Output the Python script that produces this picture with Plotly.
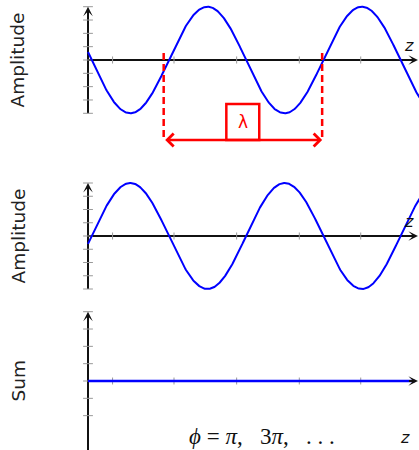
import numpy as np
import plotly.graph_objects as go

# ---- data / parameters ----
amplitude = 1.0
phases = [np.pi, 0.0]          # phase of wave 1 and wave 2
z_start = 0.15                  # where the sine starts (zero crossing offset)
z_max = 13.5
x_ticks = [1.0, 3.5, 6.05, 8.6, 11.1]
y_ticks_amp = [-1, -0.75, -0.5, -0.25, 0, 0.25, 0.5, 0.75, 1]
y_ticks_sum = [-0.5, -0.25, 0, 0.25, 0.5, 0.75, 1]
lambda_left, lambda_right = 3.08, 9.53
panel_labels = ["Amplitude", "Amplitude", "Sum"]
NB = "\u00a0"
phase_text = ("<i>ϕ</i>" + NB + "=" + NB + "<i>π</i>," + NB * 3 + "3<i>π</i>," + NB * 3
              + "." + NB + "." + NB + ".")

z = np.linspace(0, z_max, 600)
wave1 = amplitude * np.sin(z - z_start + phases[0])
wave2 = amplitude * np.sin(z - z_start + phases[1])
wave_sum = wave1 + wave2

BLUE = "#0000ff"
RED = "#ff0000"
XR = [-88 / 24.57, 331 / 24.57]

fig = go.Figure()
fig.add_trace(go.Scatter(x=z, y=wave1, mode="lines", line=dict(color=BLUE, width=2), xaxis="x", yaxis="y"))
fig.add_trace(go.Scatter(x=z, y=wave2, mode="lines", line=dict(color=BLUE, width=2), xaxis="x2", yaxis="y2"))
fig.add_trace(go.Scatter(x=z[z <= 13.3], y=wave_sum[z <= 13.3], mode="lines", line=dict(color=BLUE, width=2.5), xaxis="x3", yaxis="y3"))

shapes = []
annotations = []
panels = [("x", "y", y_ticks_amp, -1, 0.066), ("x2", "y2", y_ticks_amp, -1, 0.066), ("x3", "y3", y_ticks_sum, -1, 0.05)]
for xr, yr, yt, ybot, xt_h in panels:
    # axis lines
    shapes.append(dict(type="line", xref=xr, yref=yr, x0=0, x1=13.2, y0=0, y1=0,
                       line=dict(color="#111", width=2), layer="below"))
    shapes.append(dict(type="line", xref=xr, yref=yr, x0=0, x1=0, y0=ybot, y1=0.85,
                       line=dict(color="#111", width=2), layer="below"))
    for t in yt:
        shapes.append(dict(type="line", xref=xr, yref=yr, x0=-0.2, x1=0.2, y0=t, y1=t,
                           line=dict(color="#999", width=1), layer="below"))
    for t in x_ticks:
        shapes.append(dict(type="line", xref=xr, yref=yr, x0=t, x1=t, y0=-xt_h, y1=xt_h,
                           line=dict(color="#999", width=1), layer="below"))
    # arrowheads
    annotations.append(dict(x=13.43, y=0, ax=13.0, ay=0, xref=xr, yref=yr, axref=xr, ayref=yr,
                            text="", showarrow=True, arrowhead=3, arrowsize=0.8, arrowwidth=2, arrowcolor="#111"))
    annotations.append(dict(x=0, y=1.0, ax=0, ay=0.8, xref=xr, yref=yr, axref=xr, ayref=yr,
                            text="", showarrow=True, arrowhead=3, arrowsize=0.8, arrowwidth=2, arrowcolor="#111"))

# lambda marker
for lx in (lambda_left, lambda_right):
    shapes.append(dict(type="line", xref="x", yref="y", x0=lx, x1=lx, y0=0.13, y1=-1.5,
                       line=dict(color=RED, width=2.5, dash="7px,4px")))
shapes.append(dict(type="rect", xref="x", yref="y", x0=5.63, x1=6.97, y0=-0.825, y1=-1.5,
                   line=dict(color=RED, width=2.5), fillcolor="white"))
annotations.append(dict(x=lambda_right, y=-1.5, ax=lambda_left, ay=-1.5, xref="x", yref="y", axref="x", ayref="y",
                        text="", showarrow=True, arrowside="end+start", arrowhead=4, startarrowhead=4,
                        arrowsize=1, startarrowsize=1, arrowwidth=2.5, arrowcolor=RED))
annotations.append(dict(x=6.30, y=-1.16, xref="x", yref="y", text="λ", showarrow=False,
                        font=dict(color=RED, size=17, family="DejaVu Sans")))

# z labels
for xr, yr, yv in [("x", "y", 0.27), ("x2", "y2", 0.28), ("x3", "y3", -0.81)]:
    annotations.append(dict(x=13.05 if xr != "x3" else 12.9, y=yv, xref=xr, yref=yr, text="<i>z</i>",
                            showarrow=False, font=dict(size=16, color="#111", family="DejaVu Sans")))

annotations.append(dict(x=(261.5 - 88) / 24.57, y=-0.80, xref="x3", yref="y3", text=phase_text, showarrow=False,
                        xanchor="center", yanchor="middle",
                        font=dict(size=23, color="#111", family="Liberation Serif")))

# panel labels
for lab, ypx in zip(panel_labels, [60, 236, 381]):
    annotations.append(dict(x=17.5 / 419, y=1 - ypx / 450, xref="paper", yref="paper", text=lab,
                            textangle=-90, showarrow=False, xanchor="center", yanchor="middle",
                            font=dict(size=18.5, color="#222", family="DejaVu Sans")))

ax_common = dict(visible=False, showgrid=False, zeroline=False, range=XR)
fig.update_layout(
    width=419, height=450, margin=dict(l=0, r=0, t=0, b=0),
    paper_bgcolor="white", plot_bgcolor="white", showlegend=False,
    xaxis=dict(**ax_common, anchor="y"),
    xaxis2=dict(**ax_common, anchor="y2"),
    xaxis3=dict(**ax_common, anchor="y3"),
    yaxis=dict(visible=False, range=[-90 / 53.3, 60 / 53.3], domain=[1 - 150 / 450, 1], anchor="x"),
    yaxis2=dict(visible=False, range=[-64 / 53, 76 / 53], domain=[1 - 300 / 450, 1 - 160 / 450], anchor="x2"),
    yaxis3=dict(visible=False, range=[-69 / 69.3, 81 / 69.3], domain=[0, 1 - 300 / 450], anchor="x3"),
    shapes=shapes, annotations=annotations,
)
fig.write_html("out.html", config={"displayModeBar": False},
               post_script="document.body.style.margin='0';document.body.style.overflow='hidden';")
